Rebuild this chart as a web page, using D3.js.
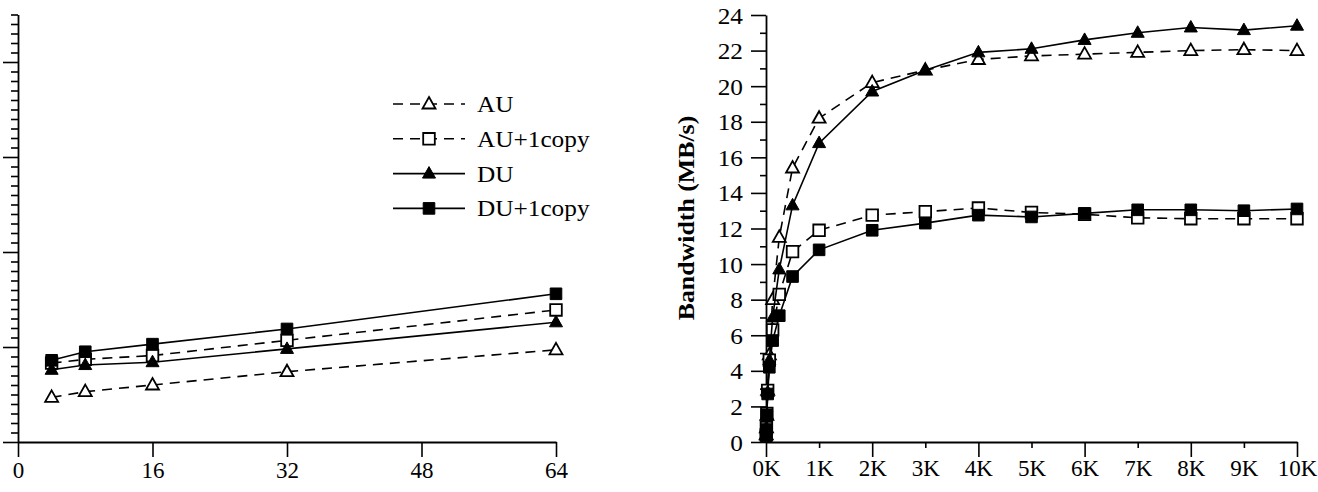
<!DOCTYPE html>
<html><head><meta charset="utf-8">
<script src="https://cdn.jsdelivr.net/npm/d3@7"></script>
<style>
html,body{margin:0;padding:0;background:#fff;}
svg{display:block;}
text{font-family:"Liberation Serif","Times New Roman",serif;fill:#000;}
</style></head><body>
<svg id="chart" width="1318" height="492"></svg>
<script>
// ---------- Left panel data ----------
const leftX = [4, 8, 16, 32, 64];
const leftXTicks = [0, 16, 32, 48, 64];
const leftAU   = [0.47, 0.53, 0.60, 0.74, 0.97];
const leftAU1  = [0.83, 0.87, 0.91, 1.07, 1.39];
const leftDU   = [0.76, 0.81, 0.84, 0.98, 1.26];
const leftDU1  = [0.86, 0.95, 1.03, 1.19, 1.56];

// ---------- Right panel data (x in bytes) ----------
const sizes = [4, 8, 16, 32, 64, 128, 256, 512, 1024, 2048, 3072, 4096, 5120, 6144, 7168, 8192, 9216, 10240];
const rightAU  = [0.4, 0.8, 1.5, 2.9, 4.9, 8.0, 11.5, 15.4, 18.2, 20.2, 20.9, 21.5, 21.7, 21.8, 21.9, 22.0, 22.05, 22.0];
const rightAU1 = [0.4, 0.8, 1.6, 2.9, 4.6, 6.3, 8.3, 10.7, 11.9, 12.75, 12.95, 13.15, 12.9, 12.8, 12.6, 12.55, 12.55, 12.55];
const rightDU  = [0.4, 0.8, 1.5, 2.8, 4.6, 7.0, 9.7, 13.3, 16.8, 19.7, 20.9, 21.9, 22.1, 22.6, 23.0, 23.3, 23.15, 23.4];
const rightDU1 = [0.35, 0.7, 1.5, 2.7, 4.2, 5.7, 7.1, 9.3, 10.8, 11.9, 12.3, 12.75, 12.65, 12.85, 13.05, 13.05, 13.0, 13.1];
const rightYTicks = d3.range(0, 25, 1);
const rightXTicks = d3.range(0, 10241, 1024);
const yLabel = "Bandwidth (MB/s)";

const seriesNames = ["AU", "AU+1copy", "DU", "DU+1copy"];
const seriesStyle = {
  "AU":       {dash: "10,7", shape: "tri", fill: "#fff"},
  "AU+1copy": {dash: "10,7", shape: "sq",  fill: "#fff"},
  "DU":       {dash: null,   shape: "tri", fill: "#000"},
  "DU+1copy": {dash: null,   shape: "sq",  fill: "#000"}
};
const SX = 1.1; // horizontal text stretch of original figure
const FS = 23;

const svg = d3.select("#chart");

function shapePath(s) {
  return s === "tri" ? "M0,-7 L6.5,4.5 L-6.5,4.5 Z" : "M-5.8,-5.8 H5.8 V5.8 H-5.8 Z";
}
function stretchText(sel, dx, dy, sx) {
  sel.attr("x", null).attr("y", null)
     .attr("transform", `translate(${dx},${dy}) scale(${sx === undefined ? SX : sx},1)`)
     .style("font-size", FS + "px");
}

function drawSeries(g, xs, ys, xScale, yScale, name) {
  const st = seriesStyle[name];
  const pts = xs.map((x, i) => [xScale(x), yScale(ys[i])]);
  g.append("path").attr("d", d3.line()(pts))
    .attr("fill", "none").attr("stroke", "#000").attr("stroke-width", 1.6)
    .attr("stroke-dasharray", st.dash);
  g.selectAll(null).data(pts).enter().append("path")
    .attr("d", shapePath(st.shape))
    .attr("transform", d => `translate(${d[0]},${d[1]})`)
    .attr("fill", st.fill).attr("stroke", "#000")
    .attr("stroke-width", st.fill === "#fff" ? 1.8 : 1);
}

// ================= LEFT PANEL =================
const xL = d3.scaleLinear().domain([0, 64]).range([18, 556]);
const yL = d3.scaleLinear().domain([0, 4.5]).range([442, 14.5]);

const gLY = svg.append("g").attr("transform", `translate(${xL(0)},0)`)
  .call(d3.axisLeft(yL).tickValues(d3.range(0, 45.5, 1).map(d => d / 10)).tickSize(7).tickSizeOuter(0).tickFormat(""));
gLY.selectAll(".tick line").attr("x2", d => Math.abs(d - Math.round(d)) < 1e-6 ? -15 : -7);

const gLX = svg.append("g").attr("transform", `translate(0,${yL(0)})`)
  .call(d3.axisBottom(xL).tickValues(leftXTicks).tickSize(15).tickSizeOuter(0));
gLX.selectAll(".tick text").call(stretchText, 0, 20, 1.0).attr("dy", "0.71em");

[gLY, gLX].forEach(g => {
  g.select(".domain").attr("stroke", "#000").attr("stroke-width", 1.8);
  g.selectAll(".tick line").attr("stroke", "#000").attr("stroke-width", 1.6);
});

const gL = svg.append("g");
const leftData = {"AU": leftAU, "AU+1copy": leftAU1, "DU": leftDU, "DU+1copy": leftDU1};
seriesNames.forEach(n => drawSeries(gL, leftX, leftData[n], xL, yL, n));

// Legend
const leg = svg.append("g").attr("transform", "translate(393,104)");
seriesNames.forEach((n, i) => {
  const st = seriesStyle[n];
  const row = leg.append("g").attr("transform", `translate(0,${i * 34.8})`);
  row.append("line").attr("x1", 0).attr("x2", 72).attr("y1", 0).attr("y2", 0)
    .attr("stroke", "#000").attr("stroke-width", 1.6).attr("stroke-dasharray", st.dash);
  row.append("path").attr("d", shapePath(st.shape)).attr("transform", "translate(36,0)")
    .attr("fill", st.fill).attr("stroke", "#000").attr("stroke-width", st.fill === "#fff" ? 1.8 : 1);
  row.append("text").text(n).attr("dy", "0.35em").call(stretchText, 84, 0);
});

// ================= RIGHT PANEL =================
const xR = d3.scaleLinear().domain([0, 10240]).range([766, 1297]);
const yR = d3.scaleLinear().domain([0, 24]).range([442, 15]);

const gRY = svg.append("g").attr("transform", `translate(${xR(0)},0)`)
  .call(d3.axisLeft(yR).tickValues(rightYTicks).tickSize(15).tickSizeOuter(0).tickFormat(d => d % 2 === 0 ? d : ""));
gRY.selectAll(".tick line").attr("x2", d => d % 2 === 0 ? -15 : -6);
gRY.selectAll(".tick text").attr("text-anchor", "end").attr("dy", "0.35em").call(stretchText, -23, 0);

const gRX = svg.append("g").attr("transform", `translate(0,${yR(0)})`)
  .call(d3.axisBottom(xR).tickValues(rightXTicks).tickSize(15).tickSizeOuter(0).tickFormat(d => (d / 1024) + "K"));
gRX.selectAll(".tick line").attr("y2", d => (d / 1024) % 2 === 0 ? 15 : 6);
gRX.selectAll(".tick text").attr("dy", "0.71em").call(stretchText, 0, 18, 1.0);

[gRY, gRX].forEach(g => {
  g.select(".domain").attr("stroke", "#000").attr("stroke-width", 1.8);
  g.selectAll(".tick line").attr("stroke", "#000").attr("stroke-width", 1.6);
});

svg.append("text").text(yLabel)
  .attr("text-anchor", "middle").attr("dy", "0.35em")
  .attr("transform", `translate(686,218) rotate(-90) scale(${SX},1)`)
  .style("font-size", "23.5px").style("font-weight", "bold");

const gR = svg.append("g");
const rightData = {"AU": rightAU, "AU+1copy": rightAU1, "DU": rightDU, "DU+1copy": rightDU1};
seriesNames.forEach(n => drawSeries(gR, sizes, rightData[n], xR, yR, n));
</script>
</body></html>
